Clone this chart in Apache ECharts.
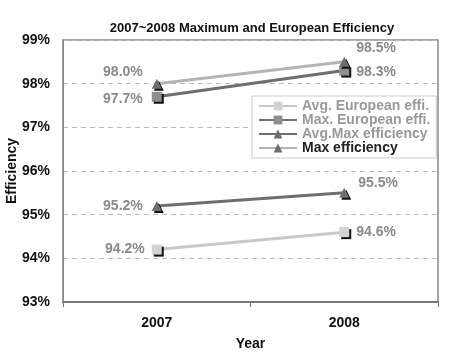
<!DOCTYPE html>
<html><head><meta charset="utf-8">
<script src="https://cdn.jsdelivr.net/npm/echarts@6/dist/echarts.min.js"></script>
<style>html,body{margin:0;padding:0;background:#fff}#c{width:450px;height:362px}</style>
</head><body><div id="c"></div>
<script>
var years = ['2007', '2008'];
var seriesNames = ['Avg. European effi.', 'Max. European effi.', 'Avg.Max efficiency', 'Max efficiency'];
var avgEuropean = [94.2, 94.6];
var maxEuropean = [97.7, 98.3];
var avgMax = [95.2, 95.5];
var maxEff = [98.0, 98.5];
var yTicks = [93, 94, 95, 96, 97, 98, 99];

var F = 'Liberation Sans, Arial, sans-serif';
var labelPos = [
  [{position:'left', offset:[-2,0]}, {position:'right', offset:[2,0]}],
  [{position:'left', offset:[-4,2]}, {position:'right', offset:[2,2]}],
  [{position:'left', offset:[-4,0]}, {position:'right', offset:[4,-10]}],
  [{position:'left', offset:[-4,-12]}, {position:'right', offset:[2,-14]}]
];
var lineColors = ['#c8c8c8', '#6e6e6e', '#6e6e6e', '#b4b4b4'];
var markColors = ['#d2d2d2', '#8e8e8e', '#6e6e6e', '#6e6e6e'];
var symbols = ['rect', 'rect', 'triangle', 'triangle'];
var values = [avgEuropean, maxEuropean, avgMax, maxEff];

function mkSeries(i) {
  return {
    name: seriesNames[i], type: 'line', data: values[i].map(function(v, j){
      return {value: v, label: labelPos[i][j]};
    }),
    symbol: symbols[i], symbolSize: 10, showSymbol: true,
    lineStyle: {color: lineColors[i], width: 3},
    itemStyle: {color: markColors[i], borderWidth: 0, shadowColor: '#111', shadowOffsetX: 2, shadowOffsetY: 2, shadowBlur: 0},
    label: {show: true, formatter: function(p){ return p.value.toFixed(1) + '%'; },
      color: '#8a8a8a', fontFamily: F, fontWeight: 'bold', fontSize: 14},
    emphasis: {disabled: true}, animation: false, z: 3 + i
  };
}

var chart = echarts.init(document.getElementById('c'), null, {renderer: 'canvas'});
chart.setOption({
  animation: false,
  title: {text: '2007~2008 Maximum and European Efficiency', left: 247, top: 17, textAlign: 'center',
    textStyle: {fontFamily: F, fontWeight: 'bold', fontSize: 13, color: '#111'}},
  grid: {left: 63, right: 12, top: 40, bottom: 60, outerBoundsMode: 'none', containLabel: false,
    show: true, borderColor: '#888', borderWidth: 1.5, backgroundColor: '#fff'},
  legend: {
    orient: 'vertical', left: 252, top: 96, itemGap: 0, itemWidth: 38, itemHeight: 11,
    padding: [3, 6, 3, 6], borderColor: '#ccc', borderWidth: 1, backgroundColor: '#fff',
    textStyle: {fontFamily: F, fontWeight: 'bold', fontSize: 14, color: '#999'},
    data: [
      {name: seriesNames[0]}, {name: seriesNames[1]}, {name: seriesNames[2]},
      {name: seriesNames[3], textStyle: {color: '#222'}}
    ]
  },
  xAxis: {
    type: 'category', data: years, boundaryGap: true,
    name: 'Year', nameLocation: 'middle', nameGap: 35, nameMoveOverlap: false,
    nameTextStyle: {fontFamily: F, fontWeight: 'bold', fontSize: 14, color: '#111'},
    axisLine: {lineStyle: {color: '#777', width: 2}},
    axisTick: {show: true, length: 5, lineStyle: {color: '#777'}},
    axisLabel: {fontFamily: F, fontWeight: 'bold', fontSize: 14, color: '#111', margin: 14}
  },
  yAxis: {
    type: 'value', min: yTicks[0], max: yTicks[yTicks.length - 1], interval: 1,
    name: 'Efficiency', nameLocation: 'middle', nameGap: 44, nameMoveOverlap: false,
    nameTextStyle: {fontFamily: F, fontWeight: 'bold', fontSize: 14, color: '#111'},
    axisLine: {show: true, lineStyle: {color: '#888'}},
    axisTick: {show: false},
    axisLabel: {fontFamily: F, fontWeight: 'bold', fontSize: 14, color: '#111', margin: 13, formatter: '{value}%'},
    splitLine: {show: true, lineStyle: {color: '#bbb', type: [5, 4]}}
  },
  series: [mkSeries(0), mkSeries(1), mkSeries(2), mkSeries(3)]
});
</script></body></html>
